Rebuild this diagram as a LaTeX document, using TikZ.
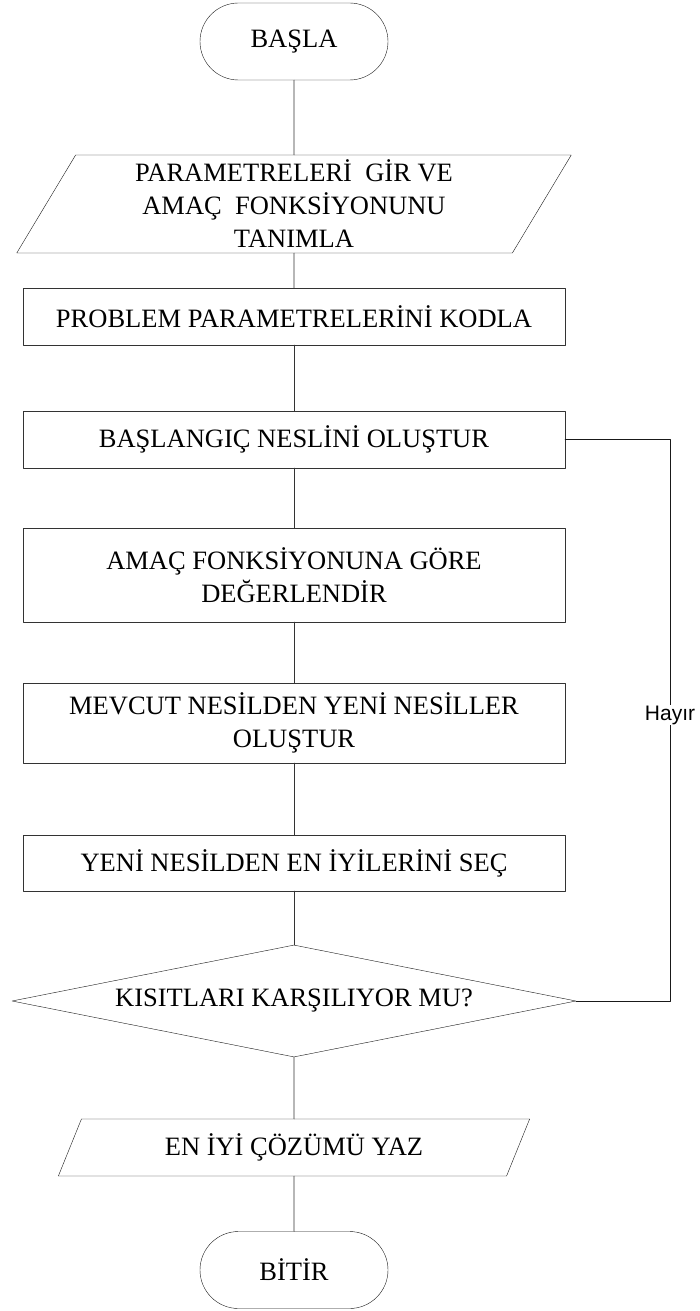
\documentclass[tikz,border=0pt]{standalone}
\usepackage{fontspec}
\setmainfont{Liberation Serif}
\newfontfamily\labelfont{Liberation Sans}
\usepackage{tikz}
\usetikzlibrary{shapes.geometric,shapes.misc}
\tikzset{
    boxfont/.style = {font=\fontsize{26.5}{33}\selectfont, align=center},
    terminal/.style = {boxfont, draw=black!90, rounded rectangle, rounded rectangle arc length=180,
        minimum width=188pt, minimum height=77pt, inner sep=0pt},
    process/.style = {boxfont, draw=black!80, rectangle, minimum width=542pt, inner sep=0pt},
    inout/.style = {boxfont, draw=black!90, trapezium, trapezium stretches=true, inner sep=0pt},
    decision/.style = {boxfont, draw=black!90, diamond, aspect=5, minimum width=564pt,
        minimum height=112pt, inner sep=0pt},
    nolabel/.style = {font=\labelfont\fontsize{21}{25}\selectfont, fill=white, inner sep=1pt},
    flow/.style = {draw=black!80, line width=0.9pt}
}

\begin{document}
\begin{tikzpicture}[line cap=round,line join=round,x=1pt,y=-1pt]
\useasboundingbox (0,0) rectangle (699,1311);

% akis kutulari
\node[terminal] (start) at (294,41.5) {BAŞLA};
\node[inout, minimum width=556pt, minimum height=98pt,
      trapezium left angle=64, trapezium right angle=116] (params) at (294,204)
      {PARAMETRELERİ~ GİR VE\\AMAÇ~ FONKSİYONUNU\\TANIMLA};
\node[process, minimum height=57pt] (encode) at (294,316.5) {PROBLEM PARAMETRELERİNİ KODLA};
\node[process, minimum height=57pt] (init) at (294,439.5) {BAŞLANGIÇ NESLİNİ OLUŞTUR};
\node[process, minimum height=94pt] (evaluate) at (294,575) {AMAÇ FONKSİYONUNA GÖRE\\DEĞERLENDİR};
\node[process, minimum height=80pt] (breed) at (294,723) {MEVCUT NESİLDEN YENİ NESİLLER\\OLUŞTUR};
\node[process, minimum height=56pt] (select) at (294,863) {YENİ NESİLDEN EN İYİLERİNİ SEÇ};
\node[decision] (check) at (294,1001) {KISITLARI KARŞILIYOR MU?};
\node[inout, minimum width=473pt, minimum height=57pt,
      trapezium left angle=63, trapezium right angle=117] (output) at (294,1147.5) {EN İYİ ÇÖZÜMÜ YAZ};
\node[terminal] (stop) at (294,1270) {BİTİR};

% baglantilar
\draw[flow] (start) -- (params);
\draw[flow] (params) -- (encode);
\draw[flow] (encode) -- (init);
\draw[flow] (init) -- (evaluate);
\draw[flow] (evaluate) -- (breed);
\draw[flow] (breed) -- (select);
\draw[flow] (select) -- (check);
\draw[flow] (check) -- (output);
\draw[flow] (output) -- (stop);

% geri donus
\coordinate (loop) at (670,439.5);
\draw[flow, draw=black!90] (check.east) -| (loop) -- (init.east);
\node[nolabel] (no) at (670,715) {Hayır};
\end{tikzpicture}
\end{document}
